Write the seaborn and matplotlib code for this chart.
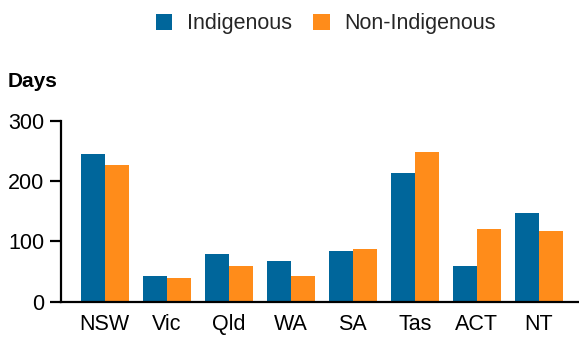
import matplotlib
matplotlib.use("Agg")
import matplotlib.pyplot as plt
import seaborn as sns
import pandas as pd
from matplotlib.patches import Patch

# Average days by jurisdiction
states = ["NSW", "Vic", "Qld", "WA", "SA", "Tas", "ACT", "NT"]
indigenous = [245, 43, 79, 67, 84, 213, 59, 147]
non_indigenous = [227, 39, 59, 43, 87, 248, 120, 117]
groups = ["Indigenous", "Non-Indigenous"]
colors = ["#00669B", "#FF8C1A"]

df = pd.DataFrame({
    "State": states * 2,
    "Days": indigenous + non_indigenous,
    "Group": [groups[0]] * len(states) + [groups[1]] * len(states),
})

sns.set_theme(style="white")
plt.rcParams["font.family"] = ["Liberation Sans", "DejaVu Sans"]

fig = plt.figure(figsize=(5.79, 3.40), dpi=100)
ax = fig.add_axes([0.105, 0.1126, 0.893, 0.5324])

sns.barplot(data=df, x="State", y="Days", hue="Group", order=states,
            hue_order=groups, palette=colors, width=0.78, gap=0,
            saturation=1, errorbar=None, legend=False, linewidth=0,
            edgecolor="none", ax=ax)

ax.set_xlim(-0.71, 7.63)
ax.set_ylim(0, 300)
ax.set_yticks([0, 100, 200, 300])
ax.set_xlabel("")
ax.set_ylabel("")

for side in ["top", "right"]:
    ax.spines[side].set_visible(False)
for side in ["left", "bottom"]:
    ax.spines[side].set_color("black")
    ax.spines[side].set_linewidth(1.6)

ax.tick_params(axis="y", which="major", length=8, width=1.6, color="black",
               labelsize=15.5, pad=4, left=True, labelcolor="black")
ax.tick_params(axis="x", length=0, labelsize=15.5, pad=9, labelcolor="black")

fig.text(8 / 579, 1 - 87 / 340, "Days", fontsize=15, fontweight="bold",
         ha="left", va="baseline", color="black")

handles = [Patch(facecolor=c, edgecolor="none") for c in colors]
fig.legend(handles, groups, loc="center", bbox_to_anchor=(0.563, 0.93),
           ncol=2, frameon=False, fontsize=15.5, handlelength=0.75,
           handleheight=0.75, handletextpad=0.7, columnspacing=1.0)

fig.savefig("out.png", dpi=100)
